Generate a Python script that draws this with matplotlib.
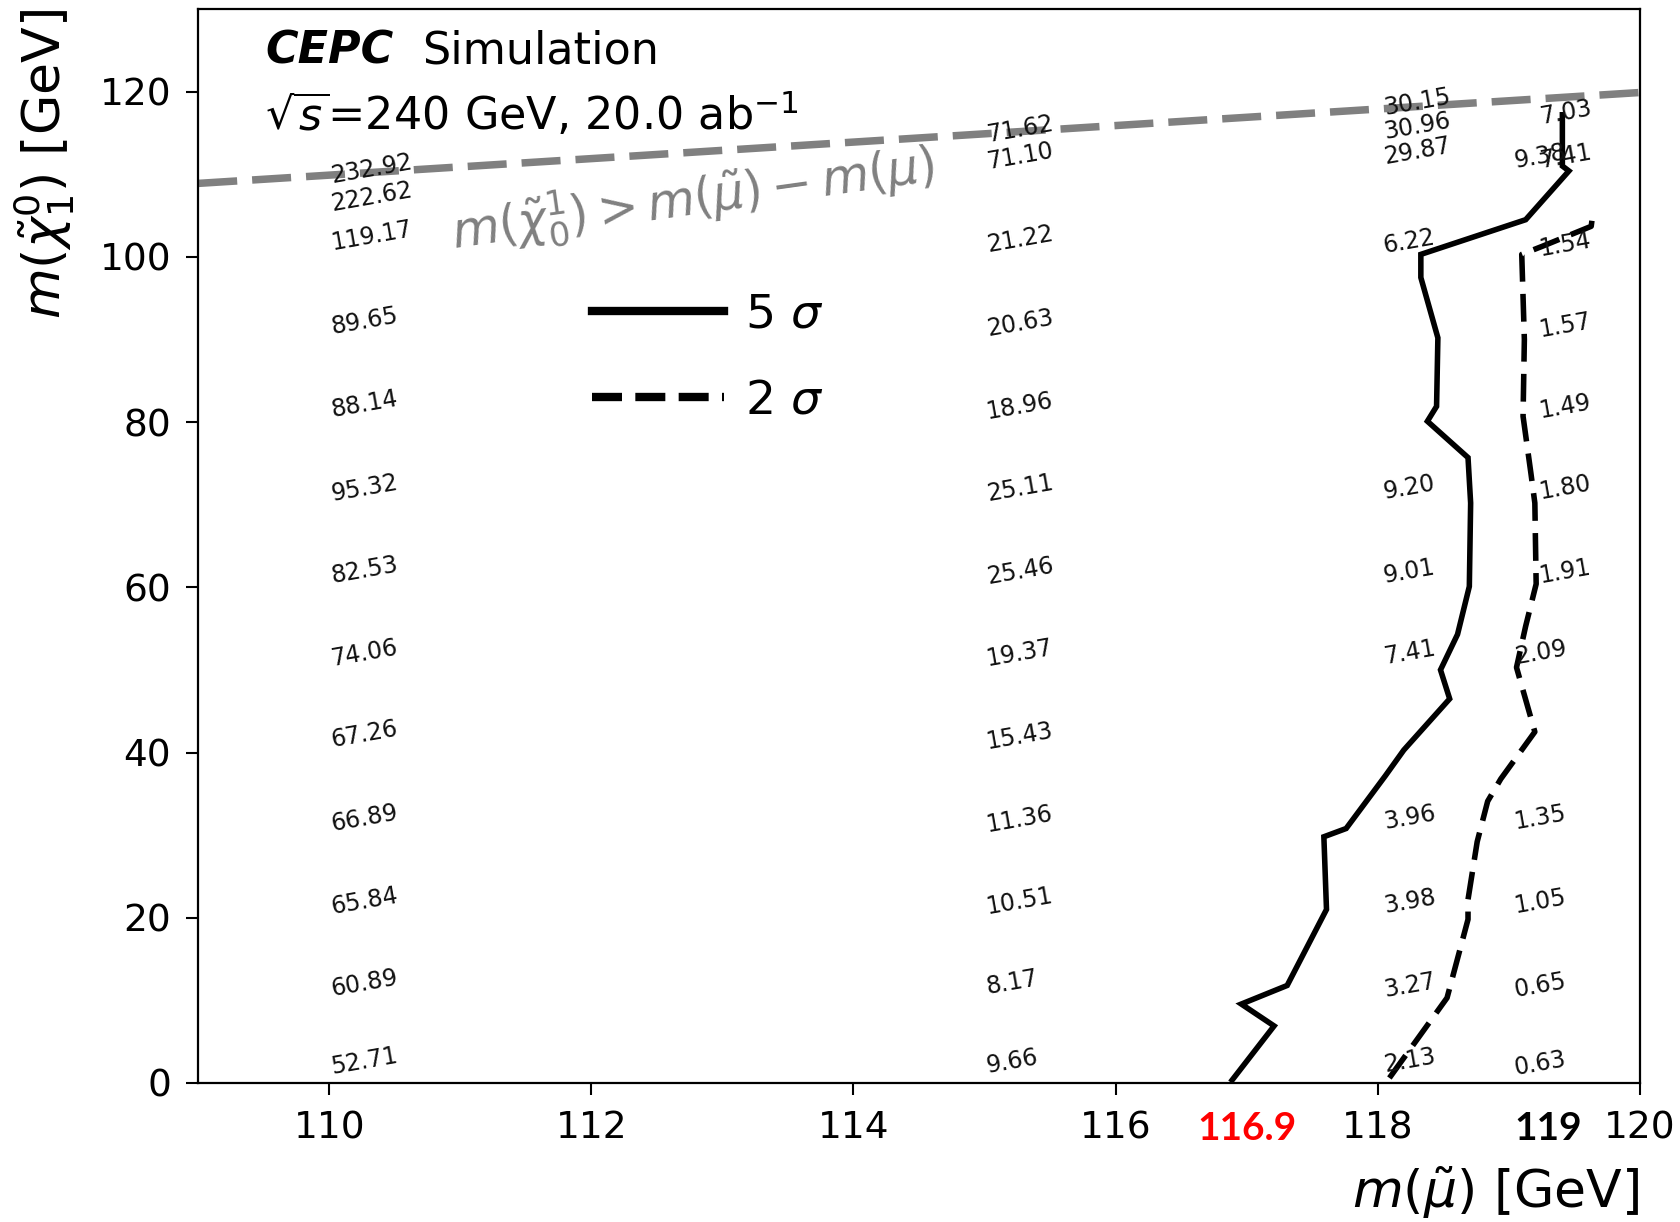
import matplotlib
matplotlib.use("Agg")
import matplotlib.pyplot as plt
from matplotlib.lines import Line2D
import matplotlib.transforms as mtransforms

# ---------------- data ----------------
# 5 sigma contour (m_smuon, m_chi)
c5_x = [116.89, 117.21, 116.96, 117.31, 117.61, 117.59, 117.76, 118.06, 118.20, 118.55,
        118.48, 118.61, 118.70, 118.71, 118.69, 118.38, 118.45, 118.46, 118.33, 118.33,
        119.13, 119.46, 119.41, 119.41]
c5_y = [0.35, 6.9, 9.55, 11.8, 21.0, 29.8, 30.8, 37.2, 40.3, 46.5,
        50.0, 54.3, 60.1, 70.2, 75.7, 80.1, 81.9, 90.2, 97.5, 100.3,
        104.5, 110.4, 111.0, 117.2]
# 2 sigma contour
c2_x = [118.09, 118.53, 118.69, 118.69, 118.76, 118.84, 118.94, 119.20, 119.06, 119.13,
        119.21, 119.20, 119.17, 119.11, 119.12, 119.10, 119.26, 119.63, 119.64]
c2_y = [0.6, 10.3, 19.8, 22.2, 29.2, 34.1, 36.8, 42.5, 50.3, 55.3,
        60.4, 70.2, 73.8, 80.7, 90.0, 100.3, 101.3, 103.7, 104.9]

# significance values at grid points (label anchor x, m_chi)
col110_x = 110.0
col110_chi = [0.6, 10.1, 20.0, 30.1, 40.2, 50.0, 60.1, 70.0, 80.1, 90.2, 100.5, 105.3, 108.6]
col110_val = ["52.71", "60.89", "65.84", "66.89", "67.26", "74.06", "82.53", "95.32",
              "88.14", "89.65", "119.17", "222.62", "232.92"]

col115_x = 115.0
col115_chi = [0.6, 10.1, 20.0, 29.9, 40.0, 50.0, 59.9, 70.0, 79.9, 90.0, 100.1, 110.2, 113.4]
col115_val = ["9.66", "8.17", "10.51", "11.36", "15.43", "19.37", "25.46", "25.11",
              "18.96", "20.63", "21.22", "71.10", "71.62"]

col118_x = 118.03
col118_chi = [0.7, 9.8, 19.9, 30.1, 50.1, 59.9, 70.1, 99.9, 110.8, 113.8, 116.7]
col118_val = ["2.13", "3.27", "3.98", "3.96", "7.41", "9.01", "9.20", "6.22",
              "29.87", "30.96", "30.15"]

col119a_x = 119.03
col119a_chi = [0.3, 9.8, 19.9, 30.1, 50.1, 110.1]
col119a_val = ["0.63", "0.65", "1.05", "1.35", "2.09", "9.38"]

col119b_x = 119.22
col119b_chi = [59.9, 70.1, 79.9, 89.7, 99.5, 110.1, 115.5]
col119b_val = ["1.91", "1.80", "1.49", "1.57", "1.54", "7.41", "7.03"]

# kinematic boundary m_chi = m_smu - m_mu
m_mu = 0.1057
xlim = (109, 120)
ylim = (0, 130)
xticks = [110, 112, 114, 116, 118, 120]
yticks = [0, 20, 40, 60, 80, 100, 120]

# ---------------- figure ----------------
fig = plt.figure(figsize=(16.8, 12.22), dpi=100)
ax = fig.add_axes([0.118, 0.1138, 0.858, 0.8788])
ax.set_xlim(*xlim)
ax.set_ylim(*ylim)
ax.set_xticks(xticks)
ax.set_yticks(yticks)
ax.tick_params(axis="both", labelsize=27, length=8.5, width=1.5, pad=11)
for s in ax.spines.values():
    s.set_linewidth(1.6)

# boundary line
bx = [xlim[0], xlim[1]]
ax.plot(bx, [v - m_mu for v in bx], color="#808080", lw=5.4,
        linestyle=(0, (5.2, 2.0)), zorder=2)

# contours
ax.plot(c5_x, c5_y, color="black", lw=4.0, solid_joinstyle="miter", zorder=3)
ax.plot(c2_x, c2_y, color="black", lw=4.0, linestyle=(0, (5.0, 2.2)), zorder=3)

# significance labels
off = 2.0
for cx, chis, vals in [(col110_x, col110_chi, col110_val),
                       (col115_x, col115_chi, col115_val),
                       (col118_x, col118_chi, col118_val),
                       (col119a_x, col119a_chi, col119a_val),
                       (col119b_x, col119b_chi, col119b_val)]:
    for c, v in zip(chis, vals):
        ax.text(cx, c + off, v, fontsize=17, rotation=10, ha="left", va="center",
                color="#111111", zorder=4)

# boundary text
ax.text(110.9, 107.0, r"$m(\tilde{\chi}^1_0) > m(\tilde{\mu}) - m(\mu)$",
        color="#808080", fontsize=35, rotation=8, ha="left", va="center")

# CEPC labels
ax.text(0.0465, 0.9605, "CEPC", transform=ax.transAxes, fontsize=32,
        fontweight="bold", fontstyle="italic", ha="left", va="center")
ax.text(0.1553, 0.9605, "Simulation", transform=ax.transAxes, fontsize=32,
        ha="left", va="center")
ax.text(0.0465, 0.9017, r"$\sqrt{s}$=240 GeV, 20.0 ab$^{-1}$", transform=ax.transAxes,
        fontsize=32, ha="left", va="center")

# legend
handles = [Line2D([], [], color="black", lw=6.0),
           Line2D([], [], color="black", lw=6.0, linestyle=(0, (3.6, 1.6)))]
ax.legend(handles, [r"5 $\sigma$", r"2 $\sigma$"], loc="upper left",
          bbox_to_anchor=(0.2735, 0.736), frameon=False, fontsize=34,
          handlelength=2.78, handletextpad=0.45, labelspacing=0.87,
          borderpad=0, borderaxespad=0)

# axis labels
ax.set_xlabel(r"$m(\tilde{\mu})$ [GeV]", fontsize=37.5, loc="right", labelpad=13)
ax.set_ylabel(r"$m(\tilde{\chi}_1^0)$ [GeV]", fontsize=37.5, loc="top", labelpad=16)

# highlighted limits on x axis
trans = mtransforms.blended_transform_factory(ax.transData, ax.transAxes)
ax.text(117.0, -0.0425, "116.9", transform=trans, color="red", fontsize=28,
        fontweight="bold", family=["Lato", "DejaVu Sans"], ha="center", va="center")
ax.text(119.30, -0.0425, "119", transform=trans, color="black", fontsize=28,
        fontweight="bold", family=["Lato", "DejaVu Sans"], ha="center", va="center")

fig.savefig("out.png", dpi=100)
